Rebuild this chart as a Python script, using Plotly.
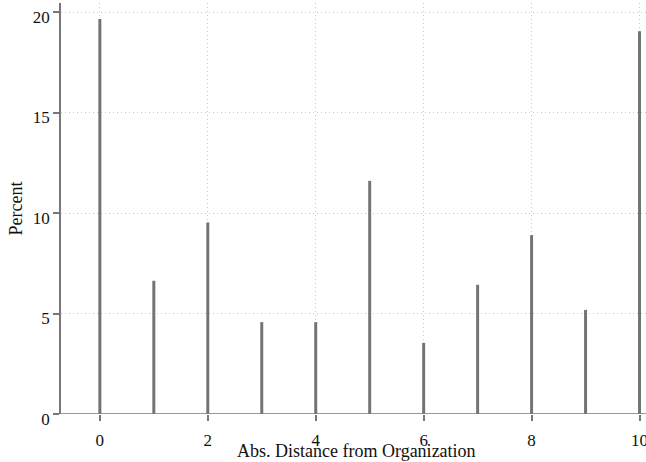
import plotly.graph_objects as go

distance = [0, 1, 2, 3, 4, 5, 6, 7, 8, 9, 10]
percent = [19.65, 6.63, 9.53, 4.57, 4.57, 11.6, 3.54, 6.43, 8.9, 5.18, 19.05]
x_ticks = [0, 2, 4, 6, 8, 10]
y_ticks = [0, 5, 10, 15, 20]

FONT = "Liberation Serif"

fig = go.Figure(go.Bar(
    x=distance, y=percent, width=0.055,
    marker=dict(color="#737373", line=dict(width=0)),
    cliponaxis=False,
))

fig.update_layout(
    width=646, height=462,
    margin=dict(l=61, r=0, t=3, b=48, autoexpand=False),
    plot_bgcolor="white", paper_bgcolor="white",
    font=dict(family=FONT, size=17, color="#111111"),
    showlegend=False,
)
fig.update_xaxes(
    range=[-0.72, 10.12], tickvals=x_ticks, automargin=False,
    showgrid=True, gridcolor="#c8c8c8", griddash="1px,3px", gridwidth=1,
    showline=False, zeroline=False,
    ticks="outside", ticklen=6, tickcolor="#777777", tickwidth=1.5,
    ticklabelstandoff=5, ticklabeloverflow="allow",
)
fig.update_yaxes(
    range=[0, 20.45], tickvals=y_ticks, automargin=False,
    showgrid=True, gridcolor="#c8c8c8", griddash="1px,3px", gridwidth=1,
    showline=True, linecolor="#777777", linewidth=1.5,
    zeroline=False,
    ticks="outside", ticklen=6, tickcolor="#777777", tickwidth=1.5,
    ticklabelshift=5, ticklabeloverflow="allow",
)
# x axis baseline drawn across the plot
fig.add_shape(type="line", xref="paper", yref="y", x0=-0.0103, x1=1, y0=0, y1=0,
              line=dict(color="#777777", width=1.5))
# axis titles
fig.add_annotation(text="Abs. Distance from Organization", xref="paper", yref="paper",
                   x=0.505, y=0, yshift=-37, showarrow=False, xanchor="center", yanchor="middle",
                   font=dict(size=18))
fig.add_annotation(text="Percent", xref="paper", yref="paper", textangle=-90,
                   x=0, xshift=-46, y=0.5, showarrow=False, xanchor="center", yanchor="middle",
                   font=dict(size=18))

fig.write_html("out.html", config={"displayModeBar": False},
               post_script="document.body.style.margin='0';document.body.style.overflow='hidden';")
